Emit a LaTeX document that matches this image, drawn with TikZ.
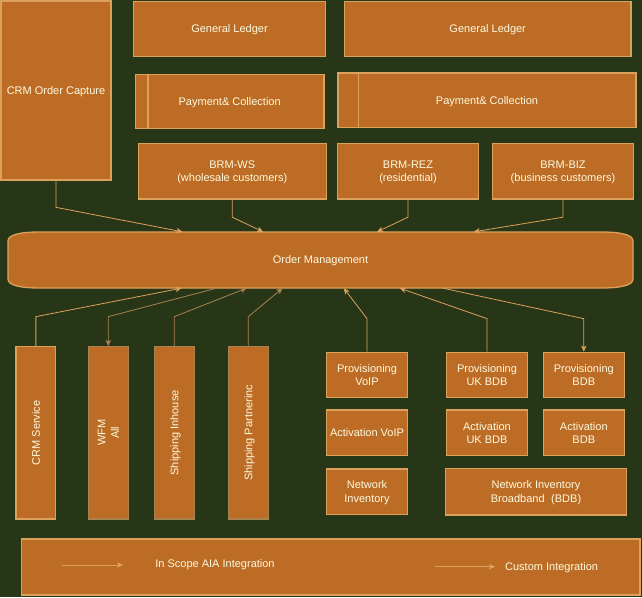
\documentclass[tikz,border=0pt]{standalone}
\usepackage{fontspec}
\setmainfont{Liberation Sans}
\usetikzlibrary{arrows.meta}
\definecolor{bg}{HTML}{283618}
\definecolor{boxfill}{HTML}{BC6C25}
\definecolor{edge}{HTML}{DDA15E}
\definecolor{edgedim}{HTML}{A8834F}
\definecolor{txt}{HTML}{FEFAE0}
\begin{document}
\begin{tikzpicture}[x=1pt,y=-1pt,
  box/.style={draw=edge, fill=boxfill, line width=1.3pt, text=txt,
    font=\fontsize{11}{13.5}\selectfont, align=center, inner sep=0pt, text depth=0pt},
  dimbox/.style={box, draw=edgedim},
  lbl/.style={text=txt, font=\fontsize{11}{13.5}\selectfont, align=center, inner sep=0pt, text depth=0pt},
  conn/.style={draw=edge, line width=0.8pt, -{Stealth[length=6pt,width=5.5pt,inset=1.5pt]}},
  rconn/.style={draw=edge, line width=0.8pt, {Stealth[length=6pt,width=5.5pt,inset=1.5pt]}-}
]
\fill[bg] (0,0) rectangle (642,597);
\useasboundingbox (0,0) rectangle (642,597);

% top row
\node[box, minimum width=110pt, minimum height=179pt] (crmoc) at (56,90.5) {CRM Order Capture};
\node[box, minimum width=192.4pt, minimum height=55.4pt] (gl1) at (229.5,29) {General Ledger};
\node[box, minimum width=286.7pt, minimum height=55.4pt] (gl2) at (487.7,29) {General Ledger};
\node[box, minimum width=188.7pt, minimum height=54pt] (pc1) at (229.7,101.7) {Payment\& Collection};
\draw[draw=edge, line width=1.3pt] ([xshift=13.4pt]pc1.north west) -- ([xshift=13.4pt]pc1.south west);
\node[box, minimum width=298pt, minimum height=54.3pt] (pc2) at (487,100.2) {Payment\& Collection};
\draw[draw=edge, line width=1.3pt] ([xshift=21.3pt]pc2.north west) -- ([xshift=21.3pt]pc2.south west);
\node[box, minimum width=188pt, minimum height=55.7pt] (brmws) at (232.3,171.2) {BRM-WS\\(wholesale customers)};
\node[box, minimum width=141.4pt, minimum height=55.7pt] (brmrez) at (408,171.2) {BRM-REZ\\(residential)};
\node[box, minimum width=141.4pt, minimum height=55.7pt] (brmbiz) at (563,171.2) {BRM-BIZ\\(business customers)};

% order management
\draw[draw=edge, fill=boxfill, line width=1.3pt]
  (40,232) -- (601,232) .. controls (622,232) and (633,235) .. (633,241)
  -- (633,279) .. controls (633,285) and (622,288) .. (601,288)
  -- (40,288) .. controls (19,288) and (8,285) .. (8,279)
  -- (8,241) .. controls (8,235) and (19,232) .. (40,232) -- cycle;
\node[lbl, minimum width=625pt, minimum height=56pt] (om) at (320.5,260) {Order Management};

% bottom vertical boxes
\node[box, minimum width=39.7pt, minimum height=172.3pt] (crmsvc) at (35.85,432.85) {};
\node[lbl, rotate=90] (crmsvct) at (crmsvc) {CRM Service};
\node[dimbox, minimum width=40pt, minimum height=172.3pt] (wfm) at (108.3,432.85) {};
\node[lbl, rotate=90] (wfmt) at (wfm) {WFM\\All};
\node[dimbox, minimum width=40pt, minimum height=172.3pt] (shipin) at (174.3,432.85) {};
\node[lbl, rotate=90] (shipint) at (shipin) {Shipping Inhouse};
\node[dimbox, minimum width=40pt, minimum height=172.3pt] (shippa) at (248.3,432.85) {};
\node[lbl, rotate=90] (shippat) at (shippa) {Shipping Partnerinc};

% provisioning / activation
\node[box, minimum width=80.6pt, minimum height=45.4pt] (provvoip) at (367,375) {Provisioning\\VoIP};
\node[box, minimum width=80.6pt, minimum height=45.7pt] (actvoip) at (367,432.85) {Activation VoIP};
\node[box, minimum width=80.6pt, minimum height=45.3pt] (netinv) at (367,491.65) {Network\\Inventory};
\node[box, minimum width=80.6pt, minimum height=45.4pt] (provuk) at (487,375) {Provisioning\\UK BDB};
\node[box, minimum width=81pt, minimum height=45.4pt] (provbdb) at (583.8,375) {Provisioning\\BDB};
\node[box, minimum width=80.6pt, minimum height=45.7pt] (actuk) at (487,432.85) {Activation\\UK BDB};
\node[box, minimum width=81pt, minimum height=45.7pt] (actbdb) at (583.8,432.85) {Activation\\BDB};
\node[box, minimum width=181.4pt, minimum height=46.7pt] (netbb) at (536,491.65) {Network Inventory\\Broadband\hspace{0.6em}(BDB)};

% legend
\node[box, minimum width=618.7pt, minimum height=56pt] (legend) at (330.65,567) {};
\coordinate (la1) at (62,565);
\coordinate (la2) at (123,565);
\coordinate (lb1) at (435,566.7);
\coordinate (lb2) at (495,566.7);
\draw[conn, line width=0.6pt] (la1) -- (la2);
\draw[conn, line width=0.6pt] (lb1) -- (lb2);
\node[lbl] (lt1) at (215,564) {In Scope AIA Integration};
\node[lbl] (lt2) at (551.6,567) {Custom Integration};

% connectors into order management (top)
\draw[conn] (crmoc.south) -- ++(0,26.7) -- ([xshift=174.7pt]om.north west);
\draw[conn] (brmws.south) -- ++(0,17.5) -- ([xshift=255.3pt]om.north west);
\draw[conn] (brmrez.south) -- ++(0,17.5) -- ([xshift=369.3pt]om.north west);
\draw[conn] (brmbiz.south) -- ++(0,17.5) -- ([xshift=466pt]om.north west);

% connectors (bottom)
\draw[conn] (crmsvc.north) -- ++(0,-29.4) -- ([xshift=173.7pt]om.south west);
\draw[rconn, draw=edgedim] (wfm.north) -- ++(0,-29.4) -- ([xshift=208.7pt]om.south west);
\draw[conn, draw=edgedim] (shipin.north) -- ++(0,-29.4) -- ([xshift=238.7pt]om.south west);
\draw[conn, draw=edgedim] (shippa.north) -- ++(0,-29.4) -- ([xshift=274.7pt]om.south west);
\draw[conn] (provvoip.north) -- ++(0,-33) -- ([xshift=336pt]om.south west);
\draw[conn] (provuk.north) -- ++(0,-33) -- ([xshift=392pt]om.south west);
\draw[rconn] (provbdb.north) -- ++(0,-33) -- ([xshift=435.3pt]om.south west);
\end{tikzpicture}
\end{document}
